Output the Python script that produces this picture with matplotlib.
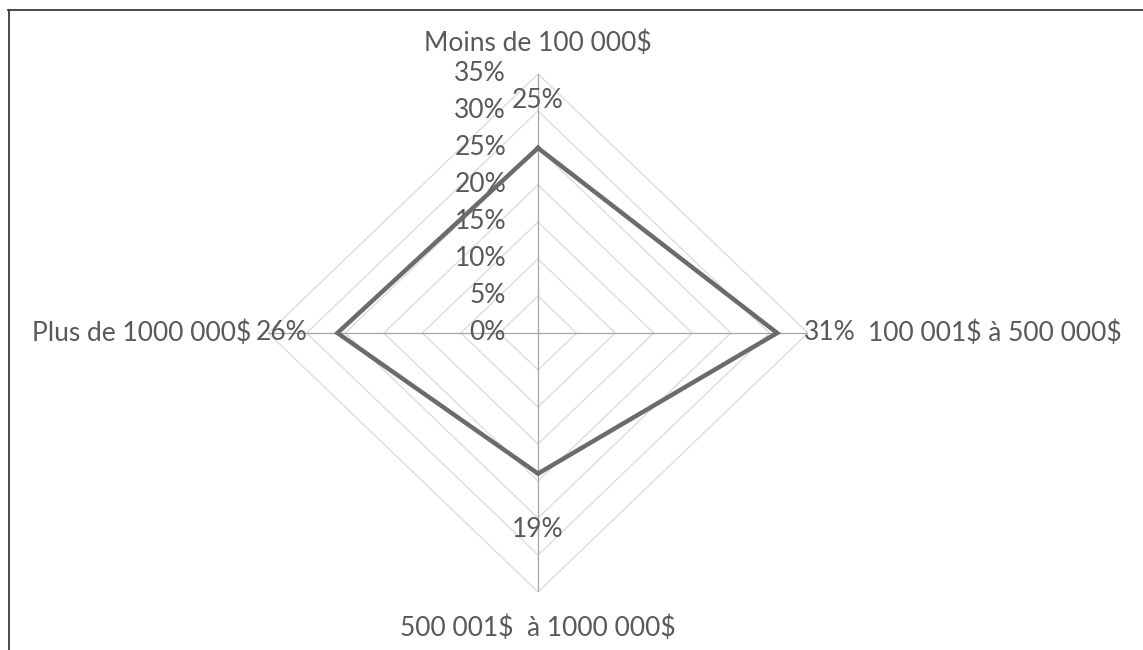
import numpy as np
import matplotlib
matplotlib.use("Agg")
import matplotlib.pyplot as plt
from matplotlib.lines import Line2D

# Répartition par tranche de montant
categories = ["Moins de 100 000$", "100 001$ à 500 000$",
              "500 001$  à 1000 000$", "Plus de 1000 000$"]
values = [25, 31, 19, 26]  # en %
radial_ticks = [0, 5, 10, 15, 20, 25, 30, 35]
tick_labels = ["0%", "5%", "10%", "15%", "20%", "25%", "30%", "35%"]

TEXT = "#595959"
FONT = "Lato"
FS = 19
txt = dict(fontsize=FS, color=TEXT, family=FONT, parse_math=False)

fig = plt.figure(figsize=(11.43, 6.5), dpi=100)
fig.patch.set_facecolor("white")

ax = fig.add_axes([0.2345, 0.0892, 0.4724, 0.797], projection="polar")
ax.set_aspect("auto")
ax.set_theta_zero_location("N")
ax.set_theta_direction(-1)
ax.set_ylim(0, radial_ticks[-1])
ax.grid(False)
ax.set_xticks([])
ax.set_yticks([])
ax.spines["polar"].set_visible(False)
ax.patch.set_alpha(0)

n = len(categories)
theta = np.arange(n) * 2 * np.pi / n
theta_closed = np.concatenate([theta, theta[:1]])

# Diamond gridlines
for lvl in radial_ticks[1:]:
    ax.plot(theta_closed, [lvl] * (n + 1), color="#dadada", lw=0.9, zorder=1)

# Spokes
for t in theta:
    ax.plot([t, t], [0, radial_ticks[-1]], color="#a6a6a6", lw=0.9, zorder=2)

# Radial tick labels along the top spoke
for lvl, lab in zip(radial_ticks, tick_labels):
    ax.annotate(lab, xy=(0, lvl), xytext=(-23, 0), textcoords="offset points",
                ha="right", va="center", **txt)

# Data series
vals_closed = values + values[:1]
ax.plot(theta_closed, vals_closed, color="#6b6b6b", lw=3.2,
        solid_joinstyle="miter", zorder=4)

# Data labels
label_offsets = [((0, 34), "center", "center"),
                 ((19, 0), "left", "center"),
                 ((0, -40), "center", "center"),
                 ((-21.5, 0), "right", "center")]
for t, v, (off, ha, va) in zip(theta, values, label_offsets):
    ax.annotate(f"{v}%", xy=(t, v), xytext=off, textcoords="offset points",
                ha=ha, va=va, zorder=5, **txt)

# Category labels outside the grid
cat_offsets = [((0, 22), "center", "center"),
               ((43, 0), "left", "center"),
               ((0, -26), "center", "center"),
               ((-12, 0), "right", "center")]
for t, c, (off, ha, va) in zip(theta, categories, cat_offsets):
    ax.annotate(c, xy=(t, radial_ticks[-1]), xytext=off, textcoords="offset points",
                ha=ha, va=va, **txt)

# Frame lines (top and left edges)
W, H = 1143, 650
fig.add_artist(Line2D([8 / W, 1.0], [1 - 10 / H, 1 - 10 / H],
                      transform=fig.transFigure, color="#3a3a3a", lw=1.3))
fig.add_artist(Line2D([9 / W, 9 / W], [0.0, 1 - 10 / H],
                      transform=fig.transFigure, color="#3a3a3a", lw=1.3))

fig.savefig("out.png", dpi=100, facecolor="white")
